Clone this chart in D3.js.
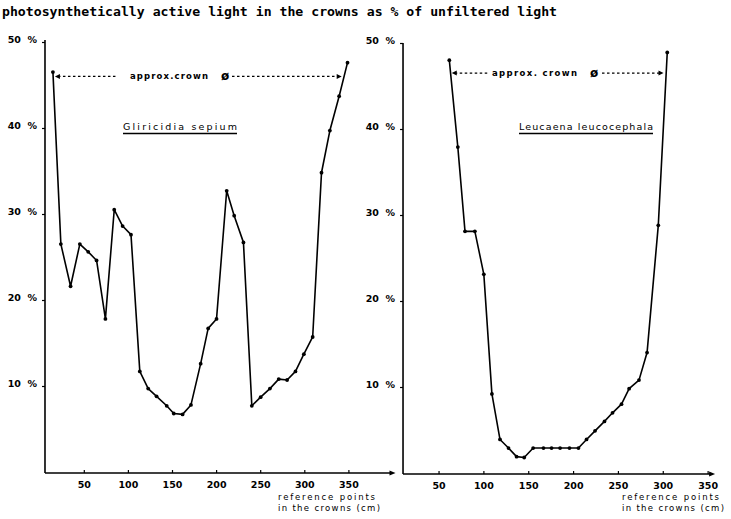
<!DOCTYPE html>
<html><head><meta charset="utf-8">
<script src="https://cdn.jsdelivr.net/npm/d3@7"></script>
<style>
body{margin:0;background:#fff;}
svg text{fill:#000;}
</style></head>
<body>
<svg id="chart" width="731" height="519"></svg>
<script>
// ---------- data ----------
const titleText = "photosynthetically active light in the crowns as % of unfiltered light";
const xTickValues = [50, 100, 150, 200, 250, 300, 350];
const yTickValues = [10, 20, 30, 40, 50];
const speciesNames = ["Gliricidia sepium", "Leucaena leucocephala"];
const crownLabel = "approx.crown";
const crownLabelRight = "approx. crown";
const xAxisTitle = ["reference points", "in the crowns (cm)"];

// Gliricidia sepium: reference point (cm) and % light
const gliricidiaCm = [15, 24, 35, 45.5, 55, 64.5, 74.5, 84.5, 94, 103.5, 113.5, 123, 132.5, 144, 152, 162, 171.5, 182.5, 191, 200.5, 212, 220.5, 231, 240.5, 250.5, 261, 271, 280.5, 290, 299.5, 309.5, 319.5, 329, 339.5, 349];
const gliricidiaPct = [46.5, 26.5, 21.6, 26.5, 25.6, 24.6, 17.8, 30.5, 28.6, 27.6, 11.7, 9.7, 8.8, 7.7, 6.8, 6.7, 7.8, 12.6, 16.7, 17.8, 32.7, 29.8, 26.7, 7.7, 8.7, 9.7, 10.8, 10.7, 11.7, 13.7, 15.7, 34.8, 39.7, 43.7, 47.6];

// Leucaena leucocephala
const leucaenaCm = [62, 71.5, 79.5, 90.5, 100.5, 109.5, 118.5, 128, 137, 145.5, 155.5, 167, 176, 185.5, 196, 206, 215, 224.5, 235, 244, 254, 262.5, 273.5, 282.5, 295, 305];
const leucaenaPct = [48, 37.9, 28.1, 28.1, 23.1, 9.2, 3.9, 2.9, 1.9, 1.8, 2.9, 2.9, 2.9, 2.9, 2.9, 2.9, 3.9, 4.9, 6.0, 7.0, 8.0, 9.8, 10.8, 14.0, 28.8, 48.9];

// approx. crown diameter level (%) and its ends (cm)
const crownLevel = [46.0, 46.5];
const crownEnds = [[17.3, 342.4], [64.7, 300.8]];

// ---------- layout ----------
const svg = d3.select("#chart");
const font = "'DejaVu Sans', sans-serif";

svg.append("text").attr("x", 2).attr("y", 16)
  .attr("font-family", "'DejaVu Sans Mono', monospace").attr("font-weight", "bold")
  .attr("font-size", 11.5).attr("textLength", 555).attr("lengthAdjust", "spacingAndGlyphs")
  .text(titleText);

const panels = [
  {cm: gliricidiaCm, pct: gliricidiaPct, xDom: [0, 400], xRange: [39.7, 392.5], xStart: 6,
   yRange: [472, 42], yTop: 40, name: speciesNames[0], nameX: 123, nameW: 114,
   crown: crownLevel[0], ends: crownEnds[0], label: crownLabel,
   dash1: [117], textX: 130, textW: 78, symX: 221, dash2: 232, titleX: 278},
  {cm: leucaenaCm, pct: leucaenaPct, xDom: [0, 355], xRange: [393.7, 712.1], xStart: 10.4,
   yRange: [473, 43], yTop: 43, name: speciesNames[1], nameX: 519, nameW: 134,
   crown: crownLevel[1], ends: crownEnds[1], label: crownLabelRight,
   dash1: [488], textX: 492, textW: 85, symX: 590, dash2: 602, titleX: 622}
];

panels.forEach(p => {
  const x = d3.scaleLinear().domain(p.xDom).range(p.xRange);
  const y = d3.scaleLinear().domain([0, 50]).range(p.yRange);
  const g = svg.append("g");
  const x0 = x(p.xStart), y0 = y(0);

  // axis lines
  g.append("line").attr("x1", x0).attr("x2", x0).attr("y1", p.yTop).attr("y2", y0 + 1)
    .attr("stroke", "#000").attr("stroke-width", 1.6);
  const xEnd = p.xRange[1];
  g.append("line").attr("x1", x0).attr("x2", xEnd).attr("y1", y0 + 1).attr("y2", y0 + 1)
    .attr("stroke", "#000").attr("stroke-width", 1.6);
  g.append("path").attr("d", `M${xEnd + 3},${y0 + 1} L${xEnd - 3},${y0 - 1.5} L${xEnd - 3},${y0 + 3.5} Z`)
    .attr("fill", "#000");

  // x axis ticks
  const xa = g.append("g").attr("transform", `translate(0,${y0 + 1})`)
    .call(d3.axisBottom(x).tickValues(xTickValues).tickSize(-3).tickPadding(8).tickFormat(d3.format("d")));
  xa.select(".domain").remove();
  xa.selectAll("line").attr("stroke-width", 1.2);
  xa.selectAll("text").attr("font-family", font).attr("font-weight", "bold").attr("font-size", 9.5);

  // y axis ticks
  const ya = g.append("g").attr("transform", `translate(${x0},0)`)
    .call(d3.axisLeft(y).tickValues(yTickValues).tickSize(3).tickPadding(5).tickFormat(d => d + "  %"));
  ya.select(".domain").remove();
  ya.selectAll("line").attr("stroke-width", 1.2);
  ya.selectAll("text").attr("font-family", font).attr("font-weight", "bold").attr("font-size", 9.5)
    .attr("dy", "0.05em").style("white-space", "pre");

  // data line
  const pts = p.cm.map((c, i) => [c, p.pct[i]]);
  g.append("path").datum(pts)
    .attr("d", d3.line().x(d => x(d[0])).y(d => y(d[1])))
    .attr("fill", "none").attr("stroke", "#000").attr("stroke-width", 1.6).attr("stroke-linejoin", "round");
  g.selectAll("circle").data(pts).join("circle")
    .attr("cx", d => x(d[0])).attr("cy", d => y(d[1])).attr("r", 1.9).attr("fill", "#000");

  // crown annotation
  const cy = y(p.crown);
  const ax1 = x(p.ends[0]), ax2 = x(p.ends[1]);
  g.append("line").attr("x1", ax1 + 3).attr("x2", p.dash1[0]).attr("y1", cy).attr("y2", cy)
    .attr("stroke", "#000").attr("stroke-width", 1.2).attr("stroke-dasharray", "2.5,2.5");
  g.append("line").attr("x1", p.dash2).attr("x2", ax2 - 3).attr("y1", cy).attr("y2", cy)
    .attr("stroke", "#000").attr("stroke-width", 1.2).attr("stroke-dasharray", "2.5,2.5");
  g.append("path").attr("d", `M${ax1},${cy} L${ax1 + 5},${cy - 2.5} L${ax1 + 5},${cy + 2.5} Z`).attr("fill", "#000");
  g.append("path").attr("d", `M${ax2},${cy} L${ax2 - 5},${cy - 2.5} L${ax2 - 5},${cy + 2.5} Z`).attr("fill", "#000");
  g.append("text").attr("x", p.textX).attr("y", cy + 3).attr("font-family", font).attr("font-size", 8.5)
    .attr("font-weight", "bold")
    .attr("textLength", p.textW).attr("lengthAdjust", "spacing").text(p.label);
  g.append("text").attr("x", p.symX).attr("y", cy + 4).attr("font-family", font).attr("font-weight", "bold")
    .attr("font-size", 12).text("ø");

  // species name (underlined)
  g.append("text").attr("x", p.nameX).attr("y", 130).attr("font-family", font).attr("font-size", 9.5)
    .attr("textLength", p.nameW).attr("lengthAdjust", "spacing").text(p.name);
  g.append("line").attr("x1", p.nameX).attr("x2", p.nameX + p.nameW).attr("y1", 133.5).attr("y2", 133.5)
    .attr("stroke", "#000").attr("stroke-width", 1.3);

  // x axis title
  xAxisTitle.forEach((t, i) => {
    g.append("text").attr("x", p.titleX).attr("y", 500 + i * 11).attr("font-family", font)
      .attr("font-size", 8.5).attr("textLength", i === 0 ? 97 : 102).attr("lengthAdjust", "spacing").text(t);
  });
});
</script>
</body></html>
